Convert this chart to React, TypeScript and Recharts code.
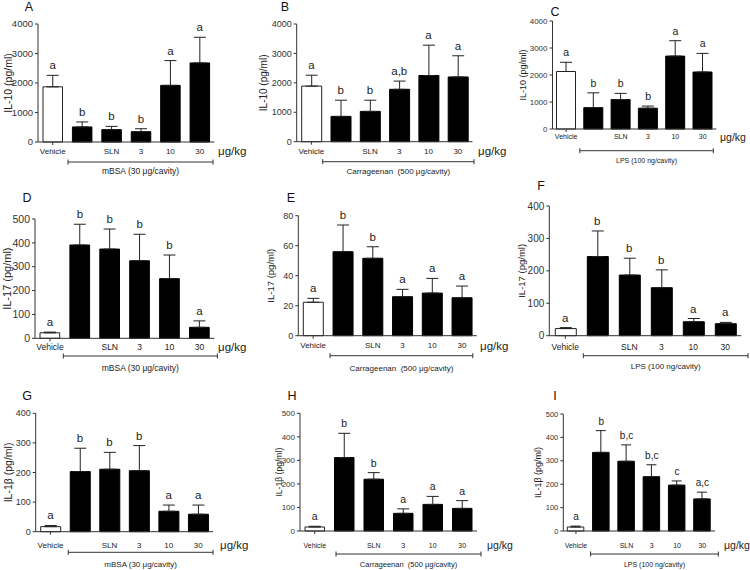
import React from 'react';
import { ComposedChart, Bar, Line, XAxis, YAxis, ErrorBar, Cell, LabelList } from 'recharts';

// ---- shared labels ----
const CATS = ['Vehicle', '', 'SLN', '3', '10', '30'];
const UNIT = 'μg/kg';
const T_IL10 = 'IL-10 (pg/ml)';
const T_IL17 = 'IL-17 (pg/ml)';
const T_IL1B = 'IL-1β (pg/ml)';
const G_MBSA = 'mBSA (30 μg/cavity)';
const G_CARR = 'Carrageenan  (500 μg/cavity)';
const G_LPS = 'LPS (100 ng/cavity)';

const TICKS_4000 = [0, 1000, 2000, 3000, 4000];
const TICKS_500 = [0, 100, 200, 300, 400, 500];
const TICKS_80 = [0, 20, 40, 60, 80];
const TICKS_400 = [0, 100, 200, 300, 400];

// ---- data (mean, SEM, significance letters) ----
const A_MEAN = [1870, 510, 420, 350, 1920, 2680];
const A_SEM = [390, 170, 110, 100, 840, 870];
const A_SIG = ['a', 'b', 'b', 'b', 'a', 'a'];

const B_MEAN = [1890, 860, 1030, 1780, 2250, 2200];
const B_SEM = [370, 550, 380, 280, 1030, 720];
const B_SIG = ['a', 'b', 'b', 'a,b', 'a', 'a'];

const C_MEAN = [2130, 790, 1090, 770, 2700, 2110];
const C_SEM = [340, 550, 230, 80, 570, 690];
const C_SIG = ['a', 'b', 'b', 'b', 'a', 'a'];

const D_MEAN = [23, 391, 374, 325, 250, 46];
const D_SEM = [3, 87, 84, 111, 99, 27];
const D_SIG = ['a', 'b', 'b', 'b', 'b', 'a'];

const E_MEAN = [22.3, 56, 51.6, 26, 28.4, 25.3];
const E_SEM = [2.6, 17.8, 7.7, 4.9, 9.8, 7.8];
const E_SIG = ['a', 'b', 'b', 'a', 'a', 'a'];

const F_MEAN = [22, 244, 187, 148, 43, 37];
const F_SEM = [3, 79, 52, 55, 10, 4];
const F_SIG = ['a', 'b', 'b', 'b', 'a', 'a'];

const G_MEAN = [17, 203, 211, 206, 69, 59];
const G_SEM = [4, 79, 57, 85, 21, 31];
const G_SIG = ['a', 'b', 'b', 'b', 'a', 'a'];

const H_MEAN = [17, 312, 220, 75, 113, 96];
const H_SEM = [3, 103, 28, 19, 34, 33];
const H_SIG = ['a', 'b', 'b', 'a', 'a', 'a'];

const I_MEAN = [17, 336, 298, 232, 196, 137];
const I_SEM = [4, 93, 70, 51, 18, 29];
const I_SIG = ['a', 'b', 'b,c', 'b,c', 'c', 'a,c'];

type Fonts = { tick: number; xtick: number; ylab: number; sig: number; group: number; unit: number };
type Cfg = {
  id: string; mean: number[]; sem: number[]; sig: string[]; ticks: number[];
  title: string; group: string;
  L: number; T: number; R: number; B: number;
  barSize: number; capW: number; f: Fonts;
  ylabOff: number; xtDy: number; brY: number; grY: number; brL: number; brR: number;
  unitDx: number | null; lx: number; ly: number;
};

const PANELS: Cfg[] = [
  { id: 'A', mean: A_MEAN, sem: A_SEM, sig: A_SIG, ticks: TICKS_4000, title: T_IL10, group: G_MBSA,
    L: 38, T: 24, R: 214.5, B: 142, barSize: 19.5, capW: 6,
    f: { tick: 9.5, xtick: 8, ylab: 10.5, sig: 11.5, group: 8.5, unit: 11.5 },
    ylabOff: 30.5, xtDy: 9, brY: 20, grY: 29, brL: 0.6, brR: -1.5, unitDx: 3.5, lx: 29, ly: 7 },
  { id: 'B', mean: B_MEAN, sem: B_SEM, sig: B_SIG, ticks: TICKS_4000, title: T_IL10, group: G_CARR,
    L: 296.7, T: 24, R: 472.5, B: 141.7, barSize: 20, capW: 6,
    f: { tick: 9, xtick: 8, ylab: 10, sig: 11.5, group: 8, unit: 11.5 },
    ylabOff: 33, xtDy: 9.3, brY: 20, grY: 29.3, brL: -3.3, brR: 1.5, unitDx: 5.5, lx: 285, ly: 7 },
  { id: 'C', mean: C_MEAN, sem: C_SEM, sig: C_SIG, ticks: TICKS_4000, title: T_IL10, group: G_LPS,
    L: 552.5, T: 21, R: 716.3, B: 129, barSize: 19, capW: 6,
    f: { tick: 8, xtick: 7, ylab: 9, sig: 10.5, group: 7, unit: 10.5 },
    ylabOff: 30, xtDy: 7.7, brY: 21.7, grY: 31, brL: 0, brR: -3, unitDx: 3.7, lx: 555, ly: 12 },
  { id: 'D', mean: D_MEAN, sem: D_SEM, sig: D_SIG, ticks: TICKS_500, title: T_IL17, group: G_MBSA,
    L: 35, T: 219, R: 214.4, B: 338.3, barSize: 19.7, capW: 6,
    f: { tick: 10.5, xtick: 8.5, ylab: 11, sig: 11.5, group: 8.5, unit: 11.5 },
    ylabOff: 28.3, xtDy: 8.4, brY: 17.7, grY: 29.4, brL: -1.6, brR: 3, unitDx: 3.6, lx: 27, ly: 198 },
  { id: 'E', mean: E_MEAN, sem: E_SEM, sig: E_SIG, ticks: TICKS_80, title: T_IL17, group: G_CARR,
    L: 298.3, T: 215.7, R: 476.8, B: 335.7, barSize: 20, capW: 6,
    f: { tick: 9, xtick: 8, ylab: 9.5, sig: 11.5, group: 8, unit: 11.5 },
    ylabOff: 27.3, xtDy: 10, brY: 20, grY: 32.3, brL: 2, brR: -4, unitDx: 3.2, lx: 291, ly: 198 },
  { id: 'F', mean: F_MEAN, sem: F_SEM, sig: F_SIG, ticks: TICKS_400, title: T_IL17, group: G_LPS,
    L: 549.3, T: 206, R: 741.3, B: 335.7, barSize: 21, capW: 6,
    f: { tick: 10, xtick: 8.5, ylab: 9.5, sig: 11.5, group: 8, unit: 11.5 },
    ylabOff: 27.6, xtDy: 11, brY: 20, grY: 31, brL: 2, brR: 6.7, unitDx: null, lx: 541, ly: 186 },
  { id: 'G', mean: G_MEAN, sem: G_SEM, sig: G_SIG, ticks: TICKS_400, title: T_IL1B, group: G_MBSA,
    L: 35.7, T: 413.3, R: 213, B: 531.7, barSize: 20, capW: 6,
    f: { tick: 9, xtick: 8, ylab: 10.5, sig: 11.5, group: 8, unit: 11.5 },
    ylabOff: 27.4, xtDy: 13.3, brY: 20.6, grY: 32.3, brL: 3, brR: 0, unitDx: 7, lx: 27, ly: 396 },
  { id: 'H', mean: H_MEAN, sem: H_SEM, sig: H_SIG, ticks: TICKS_500, title: T_IL1B, group: G_CARR,
    L: 300, T: 413.3, R: 477, B: 531, barSize: 19.5, capW: 6,
    f: { tick: 8, xtick: 7, ylab: 8.6, sig: 10.5, group: 7.5, unit: 10.5 },
    ylabOff: 21, xtDy: 14, brY: 23, grY: 33, brL: 6.5, brR: 4, unitDx: 10, lx: 292, ly: 396 },
  { id: 'I', mean: I_MEAN, sem: I_SEM, sig: I_SIG, ticks: TICKS_500, title: T_IL1B, group: G_LPS,
    L: 563.3, T: 414, R: 715, B: 531, barSize: 16.5, capW: 5,
    f: { tick: 7.5, xtick: 7, ylab: 9, sig: 10, group: 7, unit: 10.5 },
    ylabOff: 25, xtDy: 14, brY: 23, grY: 33, brL: 2, brR: 3.3, unitDx: 9, lx: 555, ly: 396 },
];

const YW = 30;
const XH = 30;
const INK = '#222';

function Panel({ cfg }: { cfg: Cfg }) {
  const data = CATS.map((c, i) => ({
    k: i,
    mean: cfg.mean[i],
    eb: [0, cfg.sem[i]],
    hi: cfg.mean[i] + cfg.sem[i],
    sig: cfg.sig[i],
  }));
  const yMax = cfg.ticks[cfg.ticks.length - 1];
  const margin = { left: cfg.L - YW, top: cfg.T, right: 750 - cfg.R, bottom: 570 - cfg.B - XH };

  const XTick = (p: any) => {
    const { x, y, payload } = p;
    const idx = Number(payload.value);
    return (
      <g>
        {idx === 0 && <line x1={x} x2={x} y1={y} y2={y + 3} stroke="#333" />}
        <text x={x} y={y + cfg.xtDy} textAnchor="middle" dominantBaseline="central"
          fontSize={cfg.f.xtick} fill={INK}>{CATS[idx]}</text>
      </g>
    );
  };

  const XLab = (p: any) => {
    const vb = p && p.viewBox ? p.viewBox : {};
    const x = typeof vb.x === 'number' ? vb.x : cfg.L;
    const w = typeof vb.width === 'number' ? vb.width : cfg.R - cfg.L;
    const y = typeof vb.y === 'number' ? vb.y : cfg.B;
    const band = w / CATS.length;
    const x1 = x + band + cfg.brL;
    const x2 = x + w + cfg.brR;
    const by = y + cfg.brY;
    return (
      <g>
        <line x1={x1} x2={x2} y1={by} y2={by} stroke="#333" />
        <line x1={x1} x2={x1} y1={by - 2.5} y2={by + 2.5} stroke="#333" />
        <line x1={x2} x2={x2} y1={by - 2.5} y2={by + 2.5} stroke="#333" />
        <text x={(x1 + x2) / 2} y={y + cfg.grY} textAnchor="middle" dominantBaseline="central"
          fontSize={cfg.f.group} fill={INK} style={{ whiteSpace: 'pre' }}>{cfg.group}</text>
        {cfg.unitDx !== null && (
          <text x={x + w + (cfg.unitDx as number)} y={y + cfg.xtDy} textAnchor="start" dominantBaseline="central"
            fontSize={cfg.f.unit} fill={INK}>{UNIT}</text>
        )}
      </g>
    );
  };

  const YLab = (p: any) => {
    const vb = p && p.viewBox ? p.viewBox : {};
    const ax = typeof vb.x === 'number' && typeof vb.width === 'number' ? vb.x + vb.width : cfg.L;
    const top = typeof vb.y === 'number' ? vb.y : cfg.T;
    const h = typeof vb.height === 'number' ? vb.height : cfg.B - cfg.T;
    const tx = ax - cfg.ylabOff;
    const ty = top + h / 2;
    return (
      <text x={tx} y={ty} textAnchor="middle" dominantBaseline="central" fontSize={cfg.f.ylab}
        fill={INK} transform={`rotate(-90, ${tx}, ${ty})`}>{cfg.title}</text>
    );
  };

  return (
    <div style={{ position: 'absolute', left: 0, top: 0 }}>
      <ComposedChart width={750} height={570} data={data} margin={margin}>
        <XAxis dataKey="k" type="category" height={XH} tickSize={0} tickMargin={0} tickLine={false}
          axisLine={{ stroke: '#333' }} tick={XTick} interval={0} label={XLab} />
        <YAxis width={YW} domain={[0, yMax]} ticks={cfg.ticks} allowDataOverflow={false}
          tickSize={3} tickMargin={2} tick={{ fontSize: cfg.f.tick, fill: '#333' }}
          axisLine={{ stroke: '#333' }} tickLine={{ stroke: '#333' }} interval={0} label={YLab} />
        <Bar dataKey="mean" barSize={cfg.barSize} isAnimationActive={false}>
          {data.map((d, i) => (
            <Cell key={i} fill={i === 0 ? '#fff' : '#000'} stroke={i === 0 ? '#222' : '#000'} strokeWidth={1} />
          ))}
          <ErrorBar dataKey="eb" width={cfg.capW} stroke="#222" strokeWidth={1} direction="y" />
        </Bar>
        <Line dataKey="hi" stroke="none" strokeWidth={0} dot={false} activeDot={false}
          isAnimationActive={false} legendType="none">
          <LabelList dataKey="sig" position="top" offset={6} fontSize={cfg.f.sig} fill={INK} />
        </Line>
      </ComposedChart>
    </div>
  );
}

export default function App() {
  return (
    <div style={{ position: 'absolute', left: 0, top: 0, width: 750, height: 570, background: '#fff',
      fontFamily: "'Liberation Sans', Arial, sans-serif", overflow: 'hidden' }}>
      <svg width={750} height={570} style={{ position: 'absolute', left: 0, top: 0 }}>
        {PANELS.map((p) => (
          <text key={p.id} x={p.lx} y={p.ly} textAnchor="middle" dominantBaseline="central"
            fontSize={12.5} fill="#111">{p.id}</text>
        ))}
      </svg>
      {PANELS.map((p) => (
        <Panel key={p.id} cfg={p} />
      ))}
    </div>
  );
}
